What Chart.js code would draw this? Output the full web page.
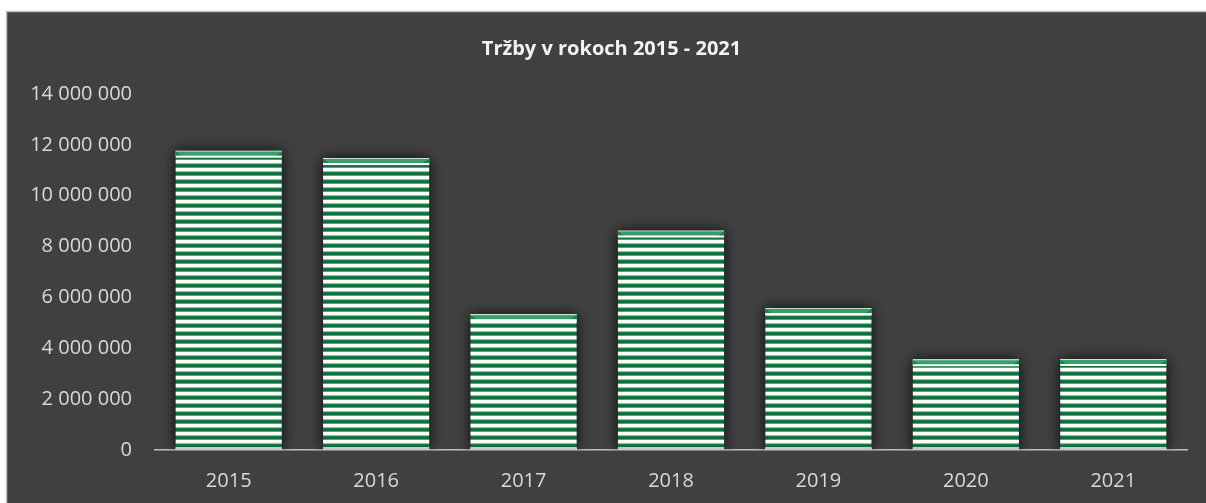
<!DOCTYPE html>
<html>
<head>
<meta charset="utf-8">
<script src="https://cdn.jsdelivr.net/npm/chart.js@4/dist/chart.umd.min.js"></script>
<style>
  html, body { margin: 0; padding: 0; background: #ffffff; }
  #wrap { width: 1206px; height: 503px; position: relative; }
</style>
</head>
<body>
<div id="wrap"><canvas id="c" width="1206" height="503"></canvas></div>
<script>
const categories = ['2015', '2016', '2017', '2018', '2019', '2020', '2021'];
const revenues = [11770000, 11480000, 5340000, 8630000, 5580000, 3570000, 3580000];
const chartTitle = 'Tržby v rokoch 2015 - 2021';
const yTickMax = 14000000;
const yTickStep = 2000000;

function makeStripePattern() {
  const p = document.createElement('canvas');
  p.width = 8; p.height = 8;
  const g = p.getContext('2d');
  const rows = ['#ffffff', '#ffffff', '#f2f7f4', '#8cc9a6', '#167a45', '#0f6b3b', '#127040', '#4ea776'];
  rows.forEach((c, i) => { g.fillStyle = c; g.fillRect(0, i, 8, 1); });
  return g.createPattern(p, 'repeat');
}

const bgPlugin = {
  id: 'bg',
  beforeDraw(chart) {
    const ctx = chart.ctx;
    ctx.save();
    ctx.fillStyle = '#ffffff';
    ctx.fillRect(0, 0, chart.width, chart.height);
    ctx.fillStyle = '#404040';
    ctx.fillRect(6, 12, chart.width - 6, chart.height - 12);
    ctx.strokeStyle = '#c0c0c0';
    ctx.lineWidth = 1.5;
    ctx.beginPath();
    ctx.moveTo(6.5, chart.height);
    ctx.lineTo(6.5, 11.5);
    ctx.lineTo(chart.width, 11.5);
    ctx.stroke();
    ctx.restore();
  }
};

const titleShiftPlugin = {
  id: 'titleShift',
  afterLayout(chart) {
    if (chart.titleBlock) { chart.titleBlock.left += 28; }
  }
};

const shadowPlugin = {
  id: 'barShadow',
  beforeDatasetsDraw(chart) {
    const ctx = chart.ctx;
    ctx.save();
    ctx.shadowColor = 'rgba(0,0,0,0.85)';
    ctx.shadowBlur = 14;
    ctx.shadowOffsetX = 0;
    ctx.shadowOffsetY = 0;
  },
  afterDatasetsDraw(chart) {
    const ctx = chart.ctx;
    ctx.restore();
    const meta = chart.getDatasetMeta(0);
    ctx.save();
    meta.data.forEach(bar => {
      const p = bar.getProps(['x', 'y', 'base', 'width'], true);
      const l = p.x - p.width / 2, r = p.x + p.width / 2, t = p.y, b = p.base;
      ctx.fillStyle = '#d8ece0';
      ctx.fillRect(l, t, r - l, 1);
      ctx.fillStyle = '#3c9d69';
      ctx.fillRect(l, t + 1, r - l, 4);
      ctx.fillStyle = '#1e7d4b';
      ctx.beginPath();
      ctx.moveTo(l, t + 1); ctx.lineTo(l + 6, t + 5); ctx.lineTo(l, t + 5); ctx.closePath(); ctx.fill();
      ctx.beginPath();
      ctx.moveTo(r, t + 1); ctx.lineTo(r - 6, t + 5); ctx.lineTo(r, t + 5); ctx.closePath(); ctx.fill();
      ctx.fillStyle = '#ffffff';
      ctx.fillRect(l, t + 5, r - l, 2);
      ctx.fillStyle = '#c6c9c7';
      ctx.fillRect(l, b - 3, r - l, 3);
    });
    ctx.restore();
  }
};

function fmt(v) {
  return String(Math.round(v)).replace(/\B(?=(\d{3})+(?!\d))/g, ' ');
}

const ctx = document.getElementById('c').getContext('2d');
new Chart(ctx, {
  type: 'bar',
  data: {
    labels: categories,
    datasets: [{
      data: revenues,
      backgroundColor: makeStripePattern(),
      borderWidth: 0,
      categoryPercentage: 0.8,
      barPercentage: 0.9
    }]
  },
  options: {
    responsive: false,
    animation: false,
    events: [],
    layout: { padding: { left: 8, right: 19, top: 0, bottom: 0 } },
    plugins: {
      legend: { display: false },
      tooltip: { enabled: false },
      title: {
        display: true,
        text: chartTitle,
        color: '#f2f2f2',
        font: { family: 'Open Sans', size: 20, weight: 'bold', lineHeight: 1.2 },
        padding: { top: 37, bottom: 33 }
      }
    },
    scales: {
      x: {
        grid: { display: false, drawTicks: false },
        border: { display: true, color: '#c0c0c0', width: 1.5 },
        ticks: {
          color: '#d9d9d9',
          font: { family: 'Open Sans', size: 20 },
          padding: 19
        },
        afterFit(scale) { scale.height = 53; }
      },
      y: {
        min: 0,
        max: yTickMax,
        grid: { display: false, drawTicks: false },
        border: { display: false },
        ticks: {
          stepSize: yTickStep,
          color: '#d9d9d9',
          font: { family: 'Open Sans', size: 20 },
          padding: 23,
          callback: v => fmt(v)
        },
        afterFit(scale) { scale.width = 147; }
      }
    }
  },
  plugins: [bgPlugin, titleShiftPlugin, shadowPlugin]
});
</script>
</body>
</html>
